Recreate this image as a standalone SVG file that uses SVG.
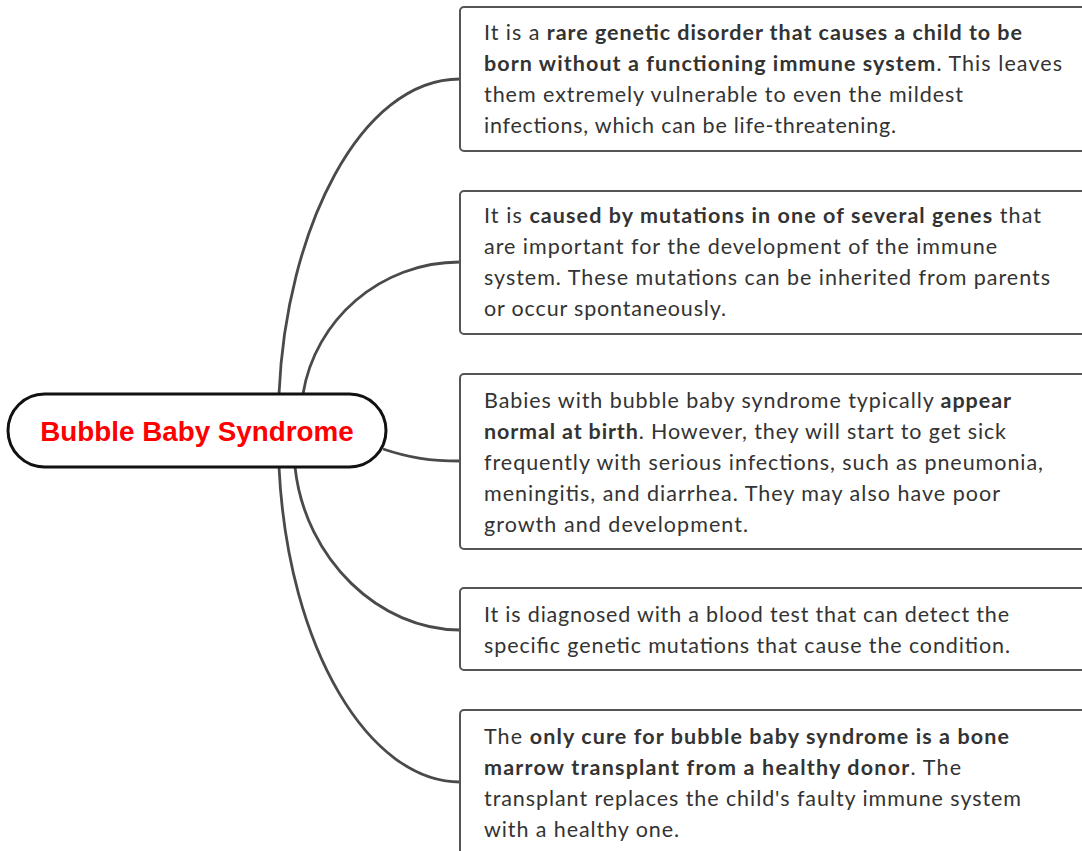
<svg xmlns="http://www.w3.org/2000/svg" width="1082" height="851" viewBox="0 0 1082 851">
  <style>
    .topic { fill: #ffffff; stroke: #111111; stroke-width: 3; }
    .topic-label { font-family: "Liberation Sans", Arial, sans-serif; font-weight: bold; font-size: 27.8px; fill: #ff0000; text-anchor: middle; }
    .card { fill: #ffffff; stroke: #555555; stroke-width: 2; }
    .body { font-family: Lato, "Open Sans", sans-serif; font-size: 21.5px; fill: #333333; }
    .body .b { font-weight: bold; }
    .link { fill: none; stroke: #4a4a4a; stroke-width: 2.8; }
  </style>

  <rect width="1082" height="851" fill="#ffffff"/>

  <!-- branch curves from the central topic to each card -->
  <g id="connectors">
    <path class="link" d="M279,394 C286,230 360,79 460,79"/>
    <path class="link" d="M303,394 C315,320 380,262 460,262"/>
    <path class="link" d="M383,449 C410,458 430,461 460,461"/>
    <path class="link" d="M295,467 C305,560 380,630 460,630"/>
    <path class="link" d="M279,467 C288,650 370,782 460,782"/>
  </g>

  <!-- central topic -->
  <g id="central">
    <rect class="topic" x="8" y="394" width="378" height="73" rx="36.5"/>
    <text class="topic-label" x="197" y="441">Bubble Baby Syndrome</text>
  </g>

  <!-- card 1 -->
  <g id="card-definition">
    <rect class="card" x="460" y="7" width="640" height="144" rx="4"/>
    <text class="body" x="484" y="40" textLength="538" lengthAdjust="spacing">It is a <tspan class="b">rare genetic disorder that causes a child to be</tspan></text>
    <text class="body" x="484" y="71" textLength="578" lengthAdjust="spacing"><tspan class="b">born without a functioning immune system</tspan>. This leaves</text>
    <text class="body" x="484" y="102" textLength="479" lengthAdjust="spacing">them extremely vulnerable to even the mildest</text>
    <text class="body" x="484" y="133" textLength="412" lengthAdjust="spacing">infections, which can be life-threatening.</text>
  </g>

  <!-- card 2 -->
  <g id="card-cause">
    <rect class="card" x="460" y="191" width="640" height="143" rx="4"/>
    <text class="body" x="484" y="223" textLength="557" lengthAdjust="spacing">It is <tspan class="b">caused by mutations in one of several genes</tspan> that</text>
    <text class="body" x="484" y="254" textLength="513" lengthAdjust="spacing">are important for the development of the immune</text>
    <text class="body" x="484" y="285" textLength="566" lengthAdjust="spacing">system. These mutations can be inherited from parents</text>
    <text class="body" x="484" y="316" textLength="242" lengthAdjust="spacing">or occur spontaneously.</text>
  </g>

  <!-- card 3 -->
  <g id="card-symptoms">
    <rect class="card" x="460" y="374" width="640" height="175" rx="4"/>
    <text class="body" x="484" y="408" textLength="527" lengthAdjust="spacing">Babies with bubble baby syndrome typically <tspan class="b">appear</tspan></text>
    <text class="body" x="484" y="439" textLength="522" lengthAdjust="spacing"><tspan class="b">normal at birth</tspan>. However, they will start to get sick</text>
    <text class="body" x="484" y="470" textLength="559" lengthAdjust="spacing">frequently with serious infections, such as pneumonia,</text>
    <text class="body" x="484" y="501" textLength="516" lengthAdjust="spacing">meningitis, and diarrhea. They may also have poor</text>
    <text class="body" x="484" y="532" textLength="264" lengthAdjust="spacing">growth and development.</text>
  </g>

  <!-- card 4 -->
  <g id="card-diagnosis">
    <rect class="card" x="460" y="588" width="640" height="82" rx="4"/>
    <text class="body" x="484" y="622" textLength="525" lengthAdjust="spacing">It is diagnosed with a blood test that can detect the</text>
    <text class="body" x="484" y="653" textLength="526" lengthAdjust="spacing">specific genetic mutations that cause the condition.</text>
  </g>

  <!-- card 5 -->
  <g id="card-treatment">
    <rect class="card" x="460" y="710" width="640" height="160" rx="4"/>
    <text class="body" x="484" y="744" textLength="525" lengthAdjust="spacing">The <tspan class="b">only cure for bubble baby syndrome is a bone</tspan></text>
    <text class="body" x="484" y="775" textLength="477" lengthAdjust="spacing"><tspan class="b">marrow transplant from a healthy donor</tspan>. The</text>
    <text class="body" x="484" y="806" textLength="537" lengthAdjust="spacing">transplant replaces the child's faulty immune system</text>
    <text class="body" x="484" y="837" textLength="195" lengthAdjust="spacing">with a healthy one.</text>
  </g>
</svg>
